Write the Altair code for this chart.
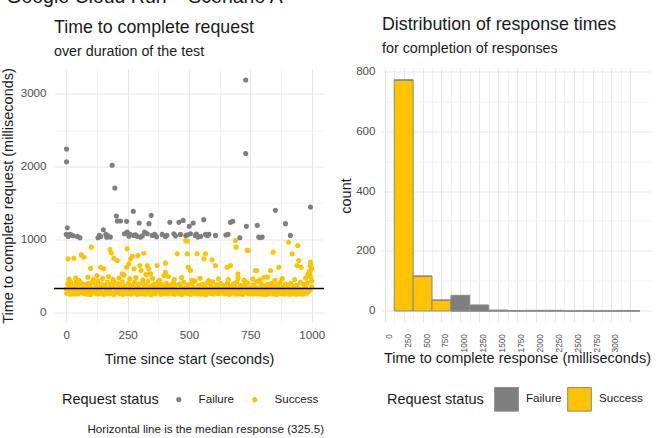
import altair as alt
import pandas as pd

FONT = "Liberation Sans"
GREY = "#7F7F7F"
GOLD = "#FFC300"
INK = "#1A1A1A"
TICK_INK = "#4D4D4D"

# ---- request timings (seconds since start, milliseconds to complete) ----
failure_time = [1, 1, 4, 0, 15, 28, 45, 56, 129, 140, 151, 161, 170, 180,
                187, 198, 204, 208, 221, 246, 237, 248, 259, 273, 275, 289,
                297, 303, 319, 330, 337, 346, 350, 360, 391, 404, 422, 438,
                459, 476, 465, 487, 501, 506, 517, 526, 536, 547, 560, 567,
                581, 608, 659, 669, 678, 707, 734, 731, 731, 778, 784, 798,
                852, 893, 913, 995,
                8, 22, 135, 165, 255, 282, 310, 368, 410, 445, 495, 530,
                575, 650, 790]
failure_ms = [2239, 2064, 1161, 1069, 1069, 1050, 1041, 1023, 1023, 1041,
              1133, 1069, 1050, 1032, 2018, 1706, 1321, 1252, 1252, 1248,
              1078, 1101, 1069, 1385, 1055, 1041, 1225, 1032, 1101, 1078,
              1216, 1330, 1055, 1069, 1069, 1041, 1234, 1078, 1234, 1261,
              1069, 1055, 1179, 1078, 1225, 1055, 1032, 1041, 1271, 1069,
              1069, 1055, 1069, 1234, 1248, 1023, 1179, 3188, 2179, 1193,
              1032, 1032, 1399, 1216, 1055, 1445,
              1040, 1060, 1055, 1030, 1045, 1062, 1050, 1038, 1058, 1048,
              1065, 1075, 1050, 1060, 1025]

# bulk of the successful requests
success_band_time = [
    0, 2, 6, 9, 12, 16, 19, 22, 26, 29, 33, 36, 40, 43, 47, 50, 54, 57, 61, 64,
    68, 71, 75, 78, 82, 86, 89, 93, 96, 100, 103, 107, 110, 114, 118, 121, 125, 128, 132, 135,
    139, 143, 146, 150, 153, 157, 161, 164, 168, 171, 175, 178, 182, 186, 189, 193, 196, 200, 203, 207,
    211, 214, 218, 221, 225, 228, 232, 236, 239, 243, 246, 250, 253, 257, 261, 264, 268, 271, 275, 278,
    282, 286, 289, 293, 296, 300, 303, 307, 311, 314, 318, 321, 325, 328, 332, 336, 339, 343, 346, 350,
    354, 357, 361, 364, 368, 371, 375, 379, 382, 386, 389, 393, 396, 400, 404, 407, 411, 414, 418, 421,
    425, 429, 432, 436, 439, 443, 446, 450, 454, 457, 461, 464, 468, 471, 475, 479, 482, 486, 489, 493,
    496, 500, 504, 507, 511, 514, 518, 521, 525, 529, 532, 536, 539, 543, 546, 550, 554, 557, 561, 564,
    568, 571, 575, 579, 582, 586, 589, 593, 596, 600, 604, 607, 611, 614, 618, 621, 625, 629, 632, 636,
    639, 643, 646, 650, 654, 657, 661, 664, 668, 671, 675, 679, 682, 686, 689, 693, 696, 700, 704, 707,
    711, 714, 718, 721, 725, 729, 732, 736, 739, 743, 746, 750, 754, 757, 761, 764, 768, 771, 775, 779,
    782, 786, 789, 793, 796, 800, 804, 807, 811, 814, 818, 821, 825, 829, 832, 836, 839, 843, 846, 850,
    854, 857, 861, 864, 868, 871, 875, 879, 882, 886, 889, 893, 896, 900, 904, 907, 911, 914, 918, 921,
    925, 929, 932, 936, 939, 943, 946, 950, 954, 957, 961, 964, 968, 971, 975, 979, 982, 986, 993, 1000,
]
success_band_ms = [
    318, 262, 395, 281, 344, 247, 410, 301, 270, 362, 252, 331, 423, 289, 256, 377, 308, 266, 402, 293,
    339, 258, 384, 274, 321, 249, 398, 287, 355, 243, 327, 414, 271, 304, 260, 368, 283, 431, 251, 336,
    297, 388, 265, 349, 244, 372, 310, 278, 416, 255, 333, 291, 380, 263, 347, 240, 405, 285, 322, 268,
    391, 299, 253, 358, 277, 420, 246, 326, 365, 272, 309, 259, 397, 288, 340, 250, 375, 303, 264, 412,
    282, 351, 245, 329, 386, 269, 315, 257, 403, 294, 338, 248, 370, 279, 425, 261, 312, 357, 242, 335,
    274, 392, 296, 254, 364, 286, 418, 267, 325, 247, 381, 306, 258, 345, 276, 400, 251, 330, 292, 369,
    263, 341, 284, 408, 249, 318, 373, 270, 302, 256, 389, 280, 352, 244, 323, 411, 266, 337, 298, 257,
    379, 275, 314, 246, 394, 287, 343, 260, 428, 272, 307, 252, 366, 290, 334, 248, 386, 300, 268, 355,
    241, 324, 405, 278, 295, 259, 360, 283, 419, 250, 339, 271, 377, 305, 255, 348, 289, 396, 262, 316,
    285, 371, 253, 332, 270, 401, 296, 245, 359, 277, 313, 261, 390, 282, 342, 249, 415, 274, 328, 258,
    367, 291, 243, 350, 279, 385, 264, 320, 404, 256, 336, 273, 298, 247, 374, 287, 346, 260, 421, 304,
    252, 330, 276, 393, 293, 248, 361, 268, 317, 244, 383, 281, 354, 259, 309, 399, 271, 338, 251, 365,
    288, 244, 378, 265, 326, 409, 257, 343, 283, 301, 250, 387, 274, 357, 262, 319, 246, 397, 279, 333,
    260, 352, 294, 246, 372, 284, 325, 255, 413, 269, 311, 248, 382, 290, 340, 263, 401, 277, 305, 354,
]

# slower successes just above the main band
success_upper_time = [12, 38, 52, 88, 110, 125, 148, 172, 190, 215, 236, 258,
                      284, 312, 325, 352, 380, 415, 440, 470, 512, 545, 580,
                      620, 660, 700, 725, 760, 790, 820, 850, 880, 930, 975,
                      985, 990, 996, 1000, 998, 994]
success_upper_ms = [455, 470, 440, 480, 450, 505, 462, 490, 448, 470, 512, 458,
                    476, 445, 520, 466, 438, 490, 452, 478, 444, 468, 436,
                    460, 450, 472, 441, 458, 446, 482, 438, 462, 450, 470,
                    520, 560, 480, 430, 610, 650]

# scattered slow successes
success_slow_time = [7, 31, 61, 72, 102, 99, 140, 153, 178, 184, 194, 208, 228,
                     248, 246, 255, 262, 269, 276, 292, 316, 300, 305, 330, 336,
                     343, 370, 404, 404, 398, 452, 493, 493, 497, 506, 533, 567,
                     561, 594, 608, 655, 669, 689, 692, 699, 741, 775, 805, 832,
                     843, 866, 906, 943, 920, 947, 940, 957, 995, 999, 992, 737,
                     771, 486]
success_slow_ms = [733, 742, 788, 756, 894, 605, 619, 596, 861, 811, 742, 710,
                   527, 871, 619, 665, 733, 770, 596, 779, 811, 642, 573, 642,
                   596, 527, 642, 674, 550, 504, 802, 976, 802, 619, 573, 802,
                   802, 733, 720, 642, 619, 642, 985, 894, 527, 848, 573, 481,
                   573, 825, 619, 962, 917, 802, 710, 642, 619, 688, 596, 527,
                   849, 573, 986]

MEDIAN_MS = 325.5

# ---- histogram of response times (bins 250 ms wide) ----
bin_low = [125, 375, 625, 875, 1125, 1375, 1625, 1875, 2125, 2375, 2625, 2875, 3125]
bin_success = [770, 116, 36, 0, 0, 0, 0, 0, 0, 0, 0, 0, 0]
bin_failure = [0, 0, 0, 52, 20, 3, 1, 2, 2, 0, 0, 0, 1]
BIN_WIDTH = 250

status_domain = ["Failure", "Success"]
status_range = [GREY, GOLD]

success_time = success_band_time + success_upper_time + success_slow_time
success_ms = success_band_ms + success_upper_ms + success_slow_ms
points = pd.DataFrame({
    "time": success_time + failure_time,
    "ms": success_ms + failure_ms,
    "status": ["Success"] * len(success_time) + ["Failure"] * len(failure_time),
})

# stack successes under failures within each bin
hist_rows = []
for lo, s, f in zip(bin_low, bin_success, bin_failure):
    hist_rows.append({"lo": lo, "hi": lo + BIN_WIDTH, "status": "Success", "y0": 0, "y1": s})
    hist_rows.append({"lo": lo, "hi": lo + BIN_WIDTH, "status": "Failure", "y0": s, "y1": s + f})
hist = pd.DataFrame(hist_rows)

median_df = pd.DataFrame({"median": [MEDIAN_MS]})

PANEL_W = 270
PANEL_H = 254


def grid_color(major_step):
    return {"condition": {"test": f"datum.value % {major_step} === 0", "value": "#E6E6E6"},
            "value": "#F2F2F2"}


def label_every(step, upto=None):
    cond = f"datum.value % {step} === 0"
    if upto is not None:
        cond += f" && datum.value <= {upto}"
    return f"{cond} ? datum.label : ''"


def panel_title(text, subtitle):
    return alt.TitleParams(text, subtitle=subtitle, anchor="start", frame="group",
                           fontSize=17.8, subtitleFontSize=14.3, subtitlePadding=8, offset=8.5)


# ---- left panel: request time over the test ----
x_time = alt.X(
    "time:Q",
    scale=alt.Scale(domain=[-50, 1050], nice=False, zero=False),
    axis=alt.Axis(title="Time since start (seconds)", values=list(range(0, 1001, 125)),
                  format="d", labelExpr=label_every(250), gridColor=grid_color(250),
                  labelPadding=7, titlePadding=11),
)
y_ms = alt.Y(
    "ms:Q",
    scale=alt.Scale(domain=[-140, 3345], nice=False, zero=False),
    axis=alt.Axis(title="Time to complete request (milliseconds)",
                  values=list(range(0, 3001, 500)), format="d",
                  labelExpr=label_every(1000), gridColor=grid_color(1000),
                  labelPadding=8, titlePadding=5),
)

dots = alt.Chart(points).mark_circle(size=26, opacity=1).encode(
    x=x_time,
    y=y_ms,
    color=alt.Color(
        "status:N",
        scale=alt.Scale(domain=status_domain, range=status_range),
        legend=alt.Legend(title="Request status", orient="none", legendX=8, legendY=325,
                          direction="horizontal", titleOrient="left", symbolType="circle",
                          symbolSize=26, titlePadding=14, labelOffset=14, columnPadding=14,
                          symbolOpacity=1),
    ),
)

median_rule = alt.Chart(median_df).mark_rule(color="black", strokeWidth=1.5).encode(y="median:Q")

caption = alt.Chart(median_df).transform_calculate(
    label="'Horizontal line is the median response (' + datum.median + ')'"
).mark_text(align="right", baseline="middle", fontSize=11.6, font=FONT, color=INK).encode(
    x=alt.value(PANEL_W), y=alt.value(361), text="label:N"
)

left = alt.layer(dots, median_rule, caption).properties(
    width=PANEL_W, height=PANEL_H,
    title=panel_title("Time to complete request", "over duration of the test"),
)

# ---- right panel: distribution of response times ----
bars = alt.Chart(hist).mark_rect(stroke="#8A8A8A", strokeWidth=1).encode(
    x=alt.X("lo:Q", scale=alt.Scale(domain=[-37, 3537], nice=False, zero=False),
            axis=alt.Axis(title="Time to complete response (milliseconds)",
                          values=list(range(0, 3251, 125)), format="d",
                          labelExpr=label_every(250, 3000), gridColor=grid_color(250),
                          labelAngle=270, labelAlign="right", labelBaseline="middle",
                          labelOffset=4.5, labelFontSize=8.3, labelPadding=11,
                          titlePadding=0)),
    x2="hi:Q",
    y=alt.Y("y0:Q", scale=alt.Scale(domain=[-38.5, 808.5], nice=False, zero=False),
            axis=alt.Axis(title="count", values=list(range(0, 801, 100)), format="d",
                          labelExpr=label_every(200), gridColor=grid_color(200),
                          labelPadding=7, titlePadding=2)),
    y2="y1:Q",
    color=alt.Color(
        "status:N",
        scale=alt.Scale(domain=status_domain, range=status_range),
        legend=alt.Legend(title="Request status", orient="none", legendX=5, legendY=318,
                          direction="horizontal", titleOrient="left", symbolType="square",
                          symbolSize=560, symbolStrokeColor="#8A8A8A", symbolStrokeWidth=1,
                          titlePadding=10, labelOffset=7, columnPadding=3),
    ),
)

right = bars.properties(
    width=PANEL_W, height=PANEL_H,
    title=panel_title("Distribution of response times", "for completion of responses"),
)

chart = alt.hconcat(
    left, right, spacing=13,
    title=alt.TitleParams("Google Cloud Run – Scenario A", anchor="start", fontSize=19.5,
                          offset=8.5, dx=6),
).resolve_scale(color="independent").resolve_legend(color="independent").properties(
    padding={"left": 0, "top": -13.5, "right": 0, "bottom": 0}
).configure(
    font=FONT,
).configure_view(
    stroke=None,
).configure_axis(
    domain=False, ticks=False, labelFont=FONT, labelFontSize=11.6, labelColor=TICK_INK,
    titleFont=FONT, titleFontSize=14.5, titleFontWeight="normal", titleColor=INK,
    gridWidth=1,
).configure_legend(
    labelFont=FONT, labelFontSize=11.6, labelColor=INK, titleFont=FONT, titleFontSize=14.5,
    titleFontWeight="normal", titleColor=INK,
).configure_title(
    font=FONT, fontWeight="normal", color=INK, subtitleFont=FONT, subtitleColor=INK,
)

chart.save("out.html", embed_options={"renderer": "svg", "actions": False})
